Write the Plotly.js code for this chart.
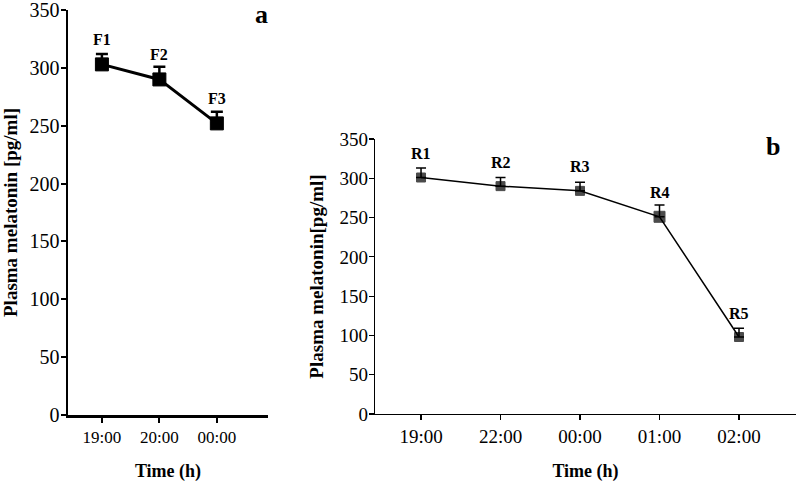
<!DOCTYPE html>
<html>
<head>
<meta charset="utf-8">
<script src="https://cdn.plot.ly/plotly-3.0.1.min.js"></script>
<style>html,body{margin:0;padding:0;background:#fff;}#chart{width:796px;height:482px;}</style>
</head>
<body>
<div id="chart"></div>
<script>
// Panel a (F samples)
const timesA = ["19:00", "20:00", "00:00"];
const labelsA = ["F1", "F2", "F3"];
const meanA = [303, 290, 252];
const errA = [9, 11, 10];

// Panel b (R samples)
const timesB = ["19:00", "22:00", "00:00", "01:00", "02:00"];
const labelsB = ["R1", "R2", "R3", "R4", "R5"];
const meanB = [301, 290, 284, 251, 98];
const errB = [12, 11, 11, 15, 11];

const yTicks = [0, 50, 100, 150, 200, 250, 300, 350];
const FONT = "Liberation Serif, Times New Roman, serif";

const idxA = timesA.map((_, i) => i);
const idxB = timesB.map((_, i) => i);

const traces = [
  {
    x: idxA, y: meanA, xaxis: "x", yaxis: "y", type: "scatter", mode: "lines+markers",
    line: {color: "#000", width: 3},
    marker: {symbol: "square", size: 13, color: "#000", line: {color: "#000", width: 1}},
    error_y: {type: "data", symmetric: false, array: errA, arrayminus: errA.map(() => 0),
              color: "#000", thickness: 2.5, width: 6},
    showlegend: false, hoverinfo: "x+y"
  },
  {
    x: idxB, y: meanB, xaxis: "x2", yaxis: "y2", type: "scatter", mode: "lines+markers",
    line: {color: "#000", width: 1.5},
    marker: {symbol: "square", size: [9, 9, 9, 11, 9], color: "#000", line: {color: "#000", width: 1}},
    error_y: {type: "data", symmetric: false, array: errB, arrayminus: errB.map(() => 0),
              color: "#000", thickness: 1.5, width: 5},
    showlegend: false, hoverinfo: "x+y"
  }
];

const annotations = [];
labelsA.forEach((t, i) => annotations.push({
  x: idxA[i], y: meanA[i], xref: "x", yref: "y", text: "<b>" + t + "</b>", showarrow: false,
  yshift: 25, font: {family: FONT, size: 16, color: "#000"}
}));
labelsB.forEach((t, i) => annotations.push({
  x: idxB[i], y: meanB[i], xref: "x2", yref: "y2", text: "<b>" + t + "</b>", showarrow: false,
  yshift: 24, font: {family: FONT, size: 16, color: "#000"}
}));
annotations.push({xref: "paper", yref: "paper", x: 261/796, y: 1 - 14/482, xanchor: "center", yanchor: "middle",
  text: "<b>a</b>", showarrow: false, font: {family: FONT, size: 26, color: "#000"}});
annotations.push({xref: "paper", yref: "paper", x: 773/796, y: 1 - 146/482, xanchor: "center", yanchor: "middle",
  text: "<b>b</b>", showarrow: false, font: {family: FONT, size: 26, color: "#000"}});

const titleFont = {family: FONT, size: 18, color: "#000"};
const yTitleFont = {family: FONT, size: 19, color: "#000"};

const layout = {
  width: 796, height: 482,
  margin: {l: 0, r: 0, t: 0, b: 0},
  paper_bgcolor: "#fff", plot_bgcolor: "rgba(0,0,0,0)",
  showlegend: false,
  xaxis: {
    domain: [68/796, 268/796], range: [-0.59, 2.89],
    tickvals: idxA, ticktext: timesA, tickfont: {family: FONT, size: 17, color: "#000"},
    showline: true, linecolor: "#000", linewidth: 2.5, mirror: false,
    ticks: "outside", ticklen: 5, tickwidth: 2, tickcolor: "#000",
    showgrid: false, zeroline: false, anchor: "y",
    title: {text: "<b>Time (h)</b>", font: titleFont, standoff: 23}
  },
  yaxis: {
    domain: [67/482, 472/482], range: [0, 350],
    tickvals: yTicks, tickfont: {family: FONT, size: 20, color: "#000"},
    showline: true, linecolor: "#000", linewidth: 2.5,
    ticks: "outside", ticklen: 5, tickwidth: 2, tickcolor: "#000",
    ticklabelstandoff: -3, ticklabeloverflow: "allow",
    showgrid: false, zeroline: false, anchor: "x",
    title: {text: "<b>Plasma melatonin [pg/ml]</b>", font: yTitleFont, standoff: 12}
  },
  xaxis2: {
    domain: [375/796, 1], range: [-0.579, 4.717],
    tickvals: idxB, ticktext: timesB, tickfont: {family: FONT, size: 19, color: "#000"},
    showline: true, linecolor: "#000", linewidth: 1.2,
    ticks: "outside", ticklen: 5, tickwidth: 1.2, tickcolor: "#000",
    showgrid: false, zeroline: false, anchor: "y2",
    title: {text: "<b>Time (h)</b>", font: titleFont, standoff: 19}
  },
  yaxis2: {
    domain: [68/482, 343/482], range: [0, 350],
    tickvals: yTicks, tickfont: {family: FONT, size: 19, color: "#000"},
    showline: true, linecolor: "#000", linewidth: 1.2,
    ticks: "outside", ticklen: 5, tickwidth: 1.2, tickcolor: "#000",
    ticklabelstandoff: -3,
    showgrid: false, zeroline: false, anchor: "x2",
    title: {text: "<b>Plasma melatonin[pg/ml]</b>", font: yTitleFont, standoff: 10}
  },
  annotations: annotations
};

Plotly.newPlot("chart", traces, layout, {displayModeBar: false, staticPlot: true});
</script>
</body>
</html>
